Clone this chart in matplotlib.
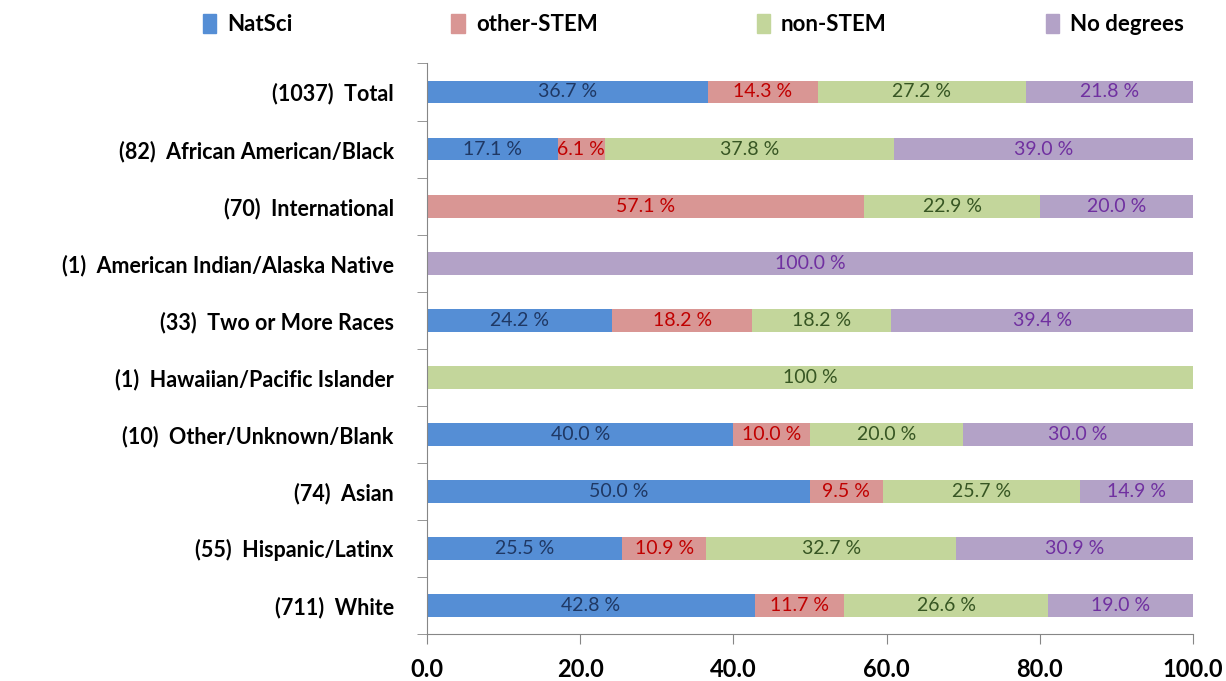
import numpy as np
import matplotlib.pyplot as plt
from matplotlib.patches import Patch

plt.rcParams['font.family'] = ['Lato', 'DejaVu Sans']

# data (top row first)
groups = ['(1037)  Total', '(82)  African American/Black', '(70)  International',
          '(1)  American Indian/Alaska Native', '(33)  Two or More Races',
          '(1)  Hawaiian/Pacific Islander', '(10)  Other/Unknown/Blank',
          '(74)  Asian', '(55)  Hispanic/Latinx', '(711)  White']
series = ['NatSci', 'other-STEM', 'non-STEM', 'No degrees']
natsci = [36.7, 17.1, 0, 0, 24.2, 0, 40.0, 50.0, 25.5, 42.8]
other_stem = [14.3, 6.1, 57.1, 0, 18.2, 0, 10.0, 9.5, 10.9, 11.7]
non_stem = [27.2, 37.8, 22.9, 0, 18.2, 100, 20.0, 25.7, 32.7, 26.6]
no_degrees = [21.8, 39.0, 20.0, 100.0, 39.4, 0, 30.0, 14.9, 30.9, 19.0]
xticks = [0, 20, 40, 60, 80, 100]

bar_colors = ['#558ED5', '#D99694', '#C3D69B', '#B3A2C7']
text_colors = ['#1F3864', '#C00000', '#375623', '#7030A0']

fig = plt.figure(figsize=(12.26, 6.81), dpi=100)
ax = fig.add_axes([0.3483, 0.069, 0.6248, 0.8378])

y = np.arange(len(groups))
left = np.zeros(len(groups))
for i, vals in enumerate([natsci, other_stem, non_stem, no_degrees]):
    vals = np.array(vals, dtype=float)
    ax.barh(y, vals, left=left, height=0.4, color=bar_colors[i], label=series[i])
    for j, v in enumerate(vals):
        if v > 0:
            txt = '100 %' if (i == 2 and v == 100) else f'{v:.1f} %'
            ax.text(left[j] + v / 2, y[j], txt, ha='center', va='center',
                    fontsize=14, color=text_colors[i])
    left += vals

ax.set_ylim(len(groups) - 0.5, -0.5)
ax.set_xlim(0, 100)
ax.set_yticks(y)
ax.set_yticklabels(groups, fontsize=15.5, fontweight='bold')
ax.set_yticks(np.arange(-0.5, len(groups), 1), minor=True)
ax.tick_params(axis='y', which='major', length=0, pad=24)
ax.tick_params(axis='y', which='minor', length=7, color='#868686', direction='out')
ax.set_xticks(xticks)
ax.set_xticklabels([f'{t:.1f}' for t in xticks], fontsize=17, fontweight='bold')
ax.tick_params(axis='x', length=7, color='#868686', direction='out', pad=10)
for s in ['top', 'right']:
    ax.spines[s].set_visible(False)
for s in ['left', 'bottom']:
    ax.spines[s].set_color('#868686')

handles = [Patch(color=c) for c in bar_colors]
fig.legend(handles, series, loc='lower left', ncol=4, mode='expand',
           bbox_to_anchor=(0.158, 0.935, 0.815, 0.06), frameon=False,
           prop={'size': 16, 'weight': 'bold'}, handlelength=0.6, handleheight=0.9,
           handletextpad=0.5, borderaxespad=0)

fig.savefig('out.png', dpi=100)
